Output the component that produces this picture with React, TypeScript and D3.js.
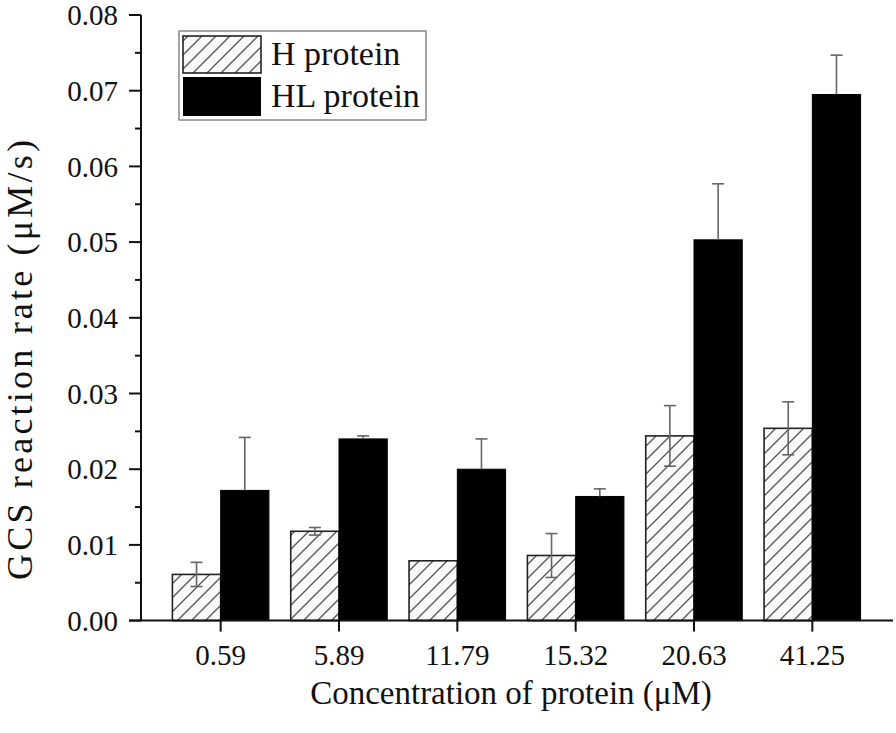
import React from "react";
import * as d3 from "d3";

const categories = ["0.59", "5.89", "11.79", "15.32", "20.63", "41.25"];
const seriesNames = ["H protein", "HL protein"];
const hValues = [0.0061, 0.0118, 0.0079, 0.0086, 0.0244, 0.0254];
const hErrors = [0.0016, 0.0005, 0.0, 0.0029, 0.004, 0.0035];
const hlValues = [0.0172, 0.024, 0.02, 0.0164, 0.0503, 0.0695];
const hlErrors = [0.007, 0.0004, 0.004, 0.001, 0.0074, 0.0052];
const yMajorTicks = [0, 0.01, 0.02, 0.03, 0.04, 0.05, 0.06, 0.07, 0.08];
const yMinorTicks = [0.005, 0.015, 0.025, 0.035, 0.045, 0.055, 0.065, 0.075];
const xTitle = "Concentration of protein (\u03bcM)";
const yTitle = "GCS reaction rate (\u03bcM/s)";

const W = 896;
const H = 733;
const FONT = "Liberation Serif, Times New Roman, serif";

export default function App() {
  const axisX = 141;
  const y = d3.scaleLinear().domain([0, 0.08]).range([620.6, 15]);
  const x = d3.scaleBand<string>().domain(categories).range([161.5, 871.5]).paddingInner(0).paddingOuter(0);
  const sub = d3.scaleBand<string>().domain(["H", "HL"]).range([0, x.bandwidth()]).paddingInner(0).paddingOuter(0.226);
  const y0 = y(0);
  const capW = 6;

  return (
    <svg width={W} height={H} style={{ position: "absolute", left: 0, top: 0, background: "#fff", fontFamily: FONT }}>
      <defs>
        <pattern id="hatch" patternUnits="userSpaceOnUse" width={14} height={14}>
          <rect width={14} height={14} fill="#fafafa" />
          <path d="M-3.5,3.5 L3.5,-3.5 M0,14 L14,0 M10.5,17.5 L17.5,10.5" stroke="#555" strokeWidth={1.3} />
        </pattern>
      </defs>

      {/* bars */}
      {categories.map((c, i) => {
        const bx = x(c)!;
        const hx = bx + sub("H")!;
        const hlx = bx + sub("HL")!;
        const bw = sub.bandwidth();
        return (
          <g key={c}>
            <rect x={hx} y={y(hValues[i])} width={bw} height={y0 - y(hValues[i])} fill="url(#hatch)" stroke="#222" strokeWidth={1.6} />
            <rect x={hlx} y={y(hlValues[i])} width={bw} height={y0 - y(hlValues[i])} fill="#000" stroke="#000" strokeWidth={1} />
          </g>
        );
      })}

      {/* error bars */}
      {categories.map((c, i) => {
        const bx = x(c)!;
        const bw = sub.bandwidth();
        const hcx = bx + sub("H")! + bw / 2;
        const hlcx = bx + sub("HL")! + bw / 2;
        const hTop = y(hValues[i] + hErrors[i]);
        const hBot = y(hValues[i] - hErrors[i]);
        const hlTop = y(hlValues[i] + hlErrors[i]);
        const hlMid = y(hlValues[i]);
        return (
          <g key={"e" + c} stroke="#666" strokeWidth={1.6}>
            {hErrors[i] > 0 && (
              <>
                <line x1={hcx} x2={hcx} y1={hTop} y2={hBot} />
                <line x1={hcx - capW} x2={hcx + capW} y1={hTop} y2={hTop} />
                <line x1={hcx - capW} x2={hcx + capW} y1={hBot} y2={hBot} />
              </>
            )}
            <line x1={hlcx} x2={hlcx} y1={hlTop} y2={hlMid} />
            <line x1={hlcx - capW} x2={hlcx + capW} y1={hlTop} y2={hlTop} />
          </g>
        );
      })}

      {/* y axis */}
      <line x1={axisX} x2={axisX} y1={y(0.08)} y2={y0} stroke="#111" strokeWidth={2} />
      {yMajorTicks.map((t) => (
        <g key={"ym" + t}>
          <line x1={axisX - 12} x2={axisX} y1={y(t)} y2={y(t)} stroke="#111" strokeWidth={2} />
          <text x={118} y={y(t)} dy="0.35em" textAnchor="end" fontSize={29} fill="#111">
            {d3.format(".2f")(t)}
          </text>
        </g>
      ))}
      {yMinorTicks.map((t) => (
        <line key={"yn" + t} x1={axisX - 6} x2={axisX} y1={y(t)} y2={y(t)} stroke="#111" strokeWidth={2} />
      ))}

      {/* x axis */}
      <line x1={129} x2={893} y1={y0} y2={y0} stroke="#111" strokeWidth={2} />
      {categories.map((c) => {
        const cx = x(c)! + x.bandwidth() / 2;
        return (
          <g key={"xt" + c}>
            <line x1={cx} x2={cx} y1={y0} y2={y0 + 11} stroke="#111" strokeWidth={2} />
            <text x={cx} y={665} textAnchor="middle" fontSize={29} fill="#111">
              {c}
            </text>
          </g>
        );
      })}

      {/* axis titles */}
      <text x={511} y={704} textAnchor="middle" fontSize={33} fill="#111">
        {xTitle}
      </text>
      <text
        transform={`translate(32,360) rotate(-90)`}
        textAnchor="middle"
        fontSize={36}
        fill="#111"
        textLength={440}
        lengthAdjust="spacing"
      >
        {yTitle}
      </text>

      {/* legend */}
      <rect x={179} y={31} width={247} height={89} fill="#fff" stroke="#888" strokeWidth={1.5} />
      <rect x={183} y={36} width={78} height={37} fill="url(#hatch)" stroke="#222" strokeWidth={1.6} />
      <rect x={183} y={77} width={78} height={39} fill="#000" />
      <text x={271} y={65} fontSize={34} fill="#111">
        {seriesNames[0]}
      </text>
      <text x={271} y={107} fontSize={34} fill="#111">
        {seriesNames[1]}
      </text>
    </svg>
  );
}
